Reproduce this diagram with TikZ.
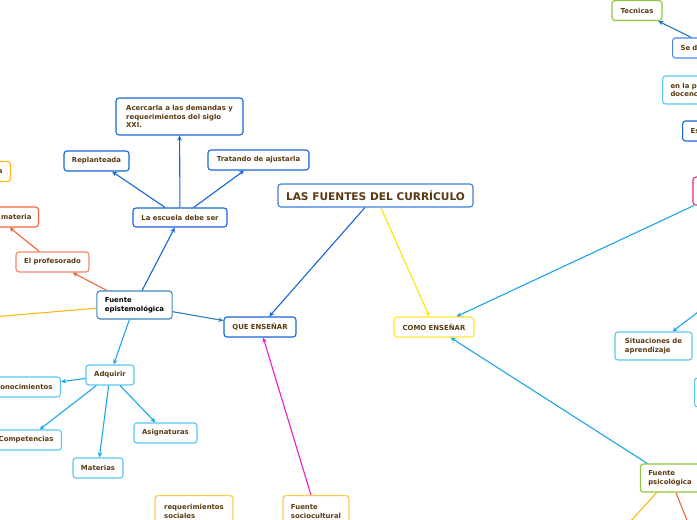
\documentclass[tikz,border=0pt]{standalone}
\usepackage{fontspec}
\setmainfont{DejaVu Sans}
\usetikzlibrary{arrows.meta}
\definecolor{topicBrown}{HTML}{5A3A11}
\definecolor{titleBlue}{HTML}{3C7FDC}
\definecolor{deepBlue}{HTML}{1565D8}
\definecolor{midBlue}{HTML}{4A8AE6}
\definecolor{steelBlue}{HTML}{3D87B8}
\definecolor{skyBlue}{HTML}{5CC6F2}
\definecolor{skyLine}{HTML}{1AA6E8}
\definecolor{sunYellow}{HTML}{FFE433}
\definecolor{lineYellow}{HTML}{FFE600}
\definecolor{amberBox}{HTML}{FFC94A}
\definecolor{amberLine}{HTML}{FFB51A}
\definecolor{salmonBox}{HTML}{F4876A}
\definecolor{orangeLine}{HTML}{F2653A}
\definecolor{leafGreen}{HTML}{8DC63F}
\definecolor{pinkBox}{HTML}{E8247C}
\definecolor{magentaLine}{HTML}{F01BC6}
\definecolor{tealLine}{HTML}{2A80B9}
\definecolor{navyLine}{HTML}{1F78B4}
\tikzstyle{mapCanvas} = [x=1pt, y=-1pt]
\tikzstyle{topicStyle} = [rounded corners=3pt, fill=white, line width=1.1pt, inner xsep=8pt, inner ysep=2pt, minimum height=20pt, text=topicBrown, font=\bfseries\fontsize{6.9}{8.8}\selectfont]
\tikzstyle{twoLines} = [minimum height=28pt, align=left]
\tikzstyle{linkLine} = [line width=1.1pt, -{Stealth[length=5pt, width=4.5pt]}]
\tikzstyle{plainLine} = [line width=1.1pt]
\newcommand{\topicNode}[5]{\node [topicStyle, draw=#2, #3] (#1) at (#4) {#5};}
\newcommand{\linkArrow}[3]{\draw [linkLine, draw=#1] (#2) -- (#3);}
\newcommand{\linkPlain}[3]{\draw [plainLine, draw=#1] (#2) -- (#3);}
\begin{document}
\begin{tikzpicture}[mapCanvas]
  \useasboundingbox (0,0) rectangle (697,520);
  % centro
  \topicNode{fuentes}{titleBlue}{minimum width=195pt, minimum height=23pt, font=\bfseries\fontsize{10.6}{12}\selectfont}{375.5,195.5}{LAS FUENTES DEL CURRÍCULO}
  \topicNode{queEnsenar}{deepBlue}{minimum width=72pt}{260,327}{QUE ENSEÑAR}
  \topicNode{comoEnsenar}{sunYellow}{minimum width=80pt}{434,327}{COMO ENSEÑAR}
  % fuente epistemologica
  \topicNode{fuenteEpi}{steelBlue}{twoLines, minimum width=75pt, text=black}{134.5,305}{Fuente\\epistemológica}
  \topicNode{escuela}{deepBlue}{minimum width=94pt, minimum height=19pt}{180,217.5}{La escuela debe ser}
  \topicNode{replanteada}{deepBlue}{minimum width=65pt}{96.5,161}{Replanteada}
  \topicNode{acercarla}{deepBlue}{minimum width=127pt, minimum height=37pt, align=left}{179.5,116.5}{Acercarla a las demandas y\\requerimientos del siglo\\XXI.}
  \topicNode{tratando}{deepBlue}{minimum width=101pt}{258.5,160}{Tratando de ajustarla}
  \topicNode{profesorado}{salmonBox}{minimum width=73pt}{52.5,262}{El profesorado}
  \topicNode{materia}{orangeLine}{anchor=east, text width=70pt, align=right, inner xsep=7pt}{39,217}{materia}
  \topicNode{soloA}{amberLine}{anchor=east, text width=20pt, align=right}{11,171.5}{a}
  \topicNode{adquirir}{skyBlue}{minimum width=48pt}{110,375}{Adquirir}
  \topicNode{conocimientos}{skyBlue}{anchor=east, text width=60pt, align=right}{61,387}{onocimientos}
  \topicNode{competencias}{skyBlue}{anchor=east}{62,440}{Competencias}
  \topicNode{materias}{skyBlue}{minimum width=50pt}{98,468}{Materias}
  \topicNode{asignaturas}{skyBlue}{minimum width=63pt}{165.5,433}{Asignaturas}
  % fuente sociocultural
  \topicNode{reqSociales}{amberBox}{twoLines, anchor=north, minimum width=78pt, minimum height=32pt}{194,495}{requerimientos\\sociales}
  \topicNode{fuenteSocio}{amberBox}{twoLines, anchor=north, minimum width=66pt, minimum height=32pt}{316,495}{Fuente\\sociocultural}
  % fuente psicologica
  \topicNode{fuentePsi}{leafGreen}{twoLines, minimum width=56pt}{670,478}{Fuente\\psicológica}
  \topicNode{situaciones}{skyBlue}{twoLines, minimum width=77pt}{653.5,346}{Situaciones de\\aprendizaje}
  \topicNode{rosaFuente}{pinkBox}{twoLines, minimum width=64pt}{725,191}{}
  \topicNode{celesteDer}{skyBlue}{anchor=west, minimum width=40pt, minimum height=29pt}{694,392.5}{}
  \topicNode{tecnicas}{leafGreen}{minimum width=50pt}{637,10.5}{Tecnicas}
  \topicNode{seD}{midBlue}{anchor=west, text width=64pt, align=left}{672,48}{Se d}
  \topicNode{enLaP}{skyBlue}{twoLines, anchor=west, text width=64pt}{662,90}{en la p\\docenc}
  \topicNode{esNodo}{deepBlue}{anchor=west, text width=40pt, align=left}{682,131}{Es}
  % extremos fuera del mapa
  \coordinate (epiOut) at (-20,318);
  \coordinate (sitIn) at (740,280);
  \coordinate (psiLeft) at (618,535);
  \coordinate (psiDown) at (693,535);
  % conexiones
  \linkArrow{deepBlue}{fuentes}{queEnsenar}
  \linkArrow{lineYellow}{fuentes}{comoEnsenar}
  \linkArrow{tealLine}{fuenteEpi}{queEnsenar}
  \linkArrow{deepBlue}{fuenteEpi}{escuela}
  \linkArrow{deepBlue}{escuela}{replanteada}
  \linkArrow{deepBlue}{escuela}{acercarla}
  \linkArrow{deepBlue}{escuela}{tratando}
  \linkArrow{orangeLine}{fuenteEpi}{profesorado}
  \linkArrow{orangeLine}{profesorado}{materia}
  \linkPlain{amberLine}{fuenteEpi}{epiOut}
  \linkArrow{skyLine}{fuenteEpi}{adquirir}
  \linkArrow{skyLine}{adquirir}{conocimientos}
  \linkArrow{skyLine}{adquirir}{competencias}
  \linkArrow{skyLine}{adquirir}{materias}
  \linkArrow{skyLine}{adquirir}{asignaturas}
  \linkArrow{magentaLine}{fuenteSocio}{queEnsenar}
  \linkArrow{skyLine}{rosaFuente}{comoEnsenar}
  \linkArrow{skyLine}{fuentePsi}{comoEnsenar}
  \linkArrow{skyLine}{sitIn}{situaciones}
  \linkPlain{amberLine}{fuentePsi}{psiLeft}
  \linkPlain{orangeLine}{fuentePsi}{psiDown}
  \linkArrow{navyLine}{seD}{tecnicas}
\end{tikzpicture}
\end{document}
